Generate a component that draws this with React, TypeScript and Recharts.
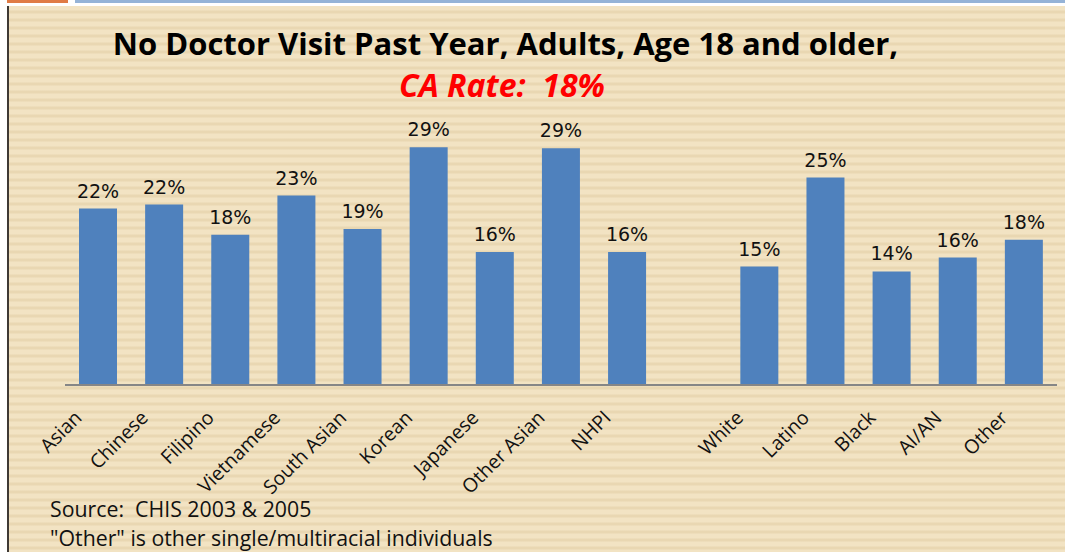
import { BarChart, Bar, XAxis, YAxis, LabelList } from "recharts";

// group gap is an empty category between the Asian subgroups and the other races
const categories = [
  "Asian", "Chinese", "Filipino", "Vietnamese", "South Asian", "Korean",
  "Japanese", "Other Asian", "NHPI", "", "White", "Latino", "Black", "AI/AN", "Other",
];
const rates = [
  21.6, 22.1, 18.4, 23.2, 19.1, 29.1, 16.3, 29.0, 16.3, null, 14.5, 25.4, 13.9, 15.6, 17.8,
];
const pctLabels = [
  "22%", "22%", "18%", "23%", "19%", "29%", "16%", "29%", "16%", "", "15%", "25%", "14%", "16%", "18%",
];

const data = categories.map((name, i) => ({ name, rate: rates[i], label: pctLabels[i] }));

const bodyFont = "'Open Sans', sans-serif";

function CategoryTick(props: any) {
  const { x, y, payload } = props;
  if (!payload.value) return null;
  const ax = x - 15;
  const ay = y + 26;
  return (
    <text
      x={ax}
      y={ay}
      transform={`rotate(-45, ${ax}, ${ay})`}
      textAnchor="end"
      fontSize={19.5}
      fontFamily={bodyFont}
      fill="#111"
    >
      {payload.value}
    </text>
  );
}

export default function App() {
  return (
    <div style={{ position: "absolute", left: 0, top: 0, width: 1065, height: 552, background: "#fff", overflow: "hidden" }}>
      <div style={{ position: "absolute", left: 7, top: 0, width: 61, height: 3, background: "#E07B45" }} />
      <div style={{ position: "absolute", left: 75, top: 0, width: 990, height: 3, background: "#95B3D7" }} />
      <div
        style={{
          position: "absolute",
          left: 7,
          top: 6,
          width: 1056,
          height: 546,
          borderLeft: "2px solid #3f3a35",
          borderRight: "1px solid #e6dcc4",
          background:
            "repeating-linear-gradient(to bottom, #F2E3C3 0px, #F2E3C3 4px, #E9D7B2 5px, #E9D7B2 7px, #F2E3C3 8px)",
        }}
      />
      <div
        style={{
          position: "absolute", left: 0, top: 22, width: 1011, textAlign: "center",
          fontFamily: bodyFont, fontWeight: 700, fontSize: 31, color: "#000", whiteSpace: "nowrap",
        }}
      >
        No Doctor Visit Past Year, Adults, Age 18 and older,
      </div>
      <div
        style={{
          position: "absolute", left: 0, top: 63, width: 1004, textAlign: "center",
          fontFamily: bodyFont, fontWeight: 700, fontStyle: "italic", fontSize: 32, color: "#FF0000",
          whiteSpace: "pre",
        }}
      >
        {"CA Rate:  18%"}
      </div>
      <div style={{ position: "absolute", left: 0, top: 0 }}>
        <BarChart
          width={1065}
          height={552}
          data={data}
          margin={{ top: 140, right: 8, left: 65, bottom: 47 }}
          barSize={38}
        >
          <XAxis
            dataKey="name"
            interval={0}
            height={120}
            tickLine={false}
            axisLine={{ stroke: "#868686", strokeWidth: 2 }}
            tick={<CategoryTick />}
          />
          <YAxis hide domain={[0, 30]} />
          <Bar dataKey="rate" fill="#4F81BD" isAnimationActive={false}>
            <LabelList
              dataKey="label"
              position="top"
              offset={11}
              fontSize={19}
              fontFamily="'DejaVu Sans', sans-serif"
              fill="#111"
            />
          </Bar>
        </BarChart>
      </div>
      <div style={{ position: "absolute", left: 50, top: 494, fontFamily: bodyFont, fontSize: 21.3, color: "#111", whiteSpace: "pre", lineHeight: "29px" }}>
        {"Source:  CHIS 2003 & 2005\n\"Other\" is other single/multiracial individuals"}
      </div>
    </div>
  );
}
